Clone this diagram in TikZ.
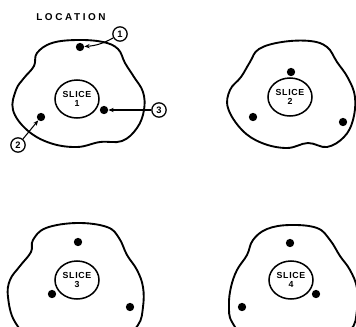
\documentclass[tikz,border=0pt]{standalone}
\usepackage{fontspec}
\setmainfont{Liberation Sans}
\newfontfamily\titlefont[LetterSpace=26]{Liberation Sans}
\newfontfamily\slicefont[LetterSpace=8]{Liberation Sans}
\usetikzlibrary{shapes.geometric, arrows.meta}
\tikzset{
  outline/.style={line width=1.6pt, line join=round},
  slicebox/.style={ellipse, draw, line width=1.3pt, minimum width=1.32cm, minimum height=1.14cm, inner sep=0pt, align=center, font=\slicefont\bfseries\fontsize{7.5}{8}\selectfont},
  spot/.style={circle, fill=black, inner sep=0pt, minimum size=0.25cm},
  callout/.style={circle, draw, line width=1.1pt, inner sep=0pt, minimum size=0.43cm, font=\bfseries\fontsize{8}{9}\selectfont},
  leader/.style={line width=0.9pt, -{Stealth[length=1.6mm, width=1.3mm]}}
}

\begin{document}
\begin{tikzpicture}[x=0.03cm, y=-0.03cm]

    \useasboundingbox (0,0) rectangle (356,326);
    \clip (0,0) rectangle (356,326);

    % Titulo
    \node[font=\titlefont\bfseries\fontsize{8.5}{9}\selectfont] (title) at (71,17) {LOCATION};

    % Contornos exteriores (uno por rebanada)
    \draw[outline] plot[smooth cycle, tension=0.65] coordinates {
        (37,53) (52,43) (77,40) (103,42) (118,49) (125,63) (134,77) (143,92)
        (144,110) (137,128) (122,141) (100,142) (77,147) (50,143) (27,130)
        (13,110) (16,90) (24,78) (34,66)};
    \draw[outline] plot[smooth cycle, tension=0.65] coordinates {
        (250,62) (259,49) (282,42) (310,41) (327,47) (337,62) (348,78) (355,97)
        (353,120) (344,137) (327,147) (308,143) (287,148) (262,143) (242,130)
        (228,108) (230,90) (241,77)};
    \draw[outline] plot[smooth cycle, tension=0.65] coordinates {
        (33,240) (46,228) (77,223) (107,227) (119,238) (127,255) (137,270)
        (143,287) (143,307) (138,325) (120,340) (77,345) (35,340) (15,322)
        (8,297) (10,280) (20,266) (31,252)};
    \draw[outline] plot[smooth cycle, tension=0.65] coordinates {
        (253,240) (267,229) (290,225) (317,228) (330,240) (340,256) (350,270)
        (357,288) (357,310) (350,330) (320,342) (290,345) (250,340) (232,322)
        (229,305) (231,287) (237,270) (247,255)};

    % Rebanadas centrales
    \foreach \x/\y/\n in {77/99/1, 290/97/2, 77/280/3, 291/280/4} {
        \node[slicebox] (slice\n) at (\x,\y) {SLICE\\\n};
    }

    % Puntos de medida
    \foreach \x/\y/\k in {
        80/47/11, 41/117/12, 104/110/13,
        291/72/21, 253/117/22, 343/122/23,
        78/242/31, 52/294/32, 130/307/33,
        290/243/41, 316/294/42, 242/307/43
    } {
        \node[spot] (spot\k) at (\x,\y) {};
    }

    % Numeros de ubicacion
    \node[callout] (loc1) at (120,34) {1};
    \node[callout] (loc2) at (18,145) {2};
    \node[callout] (loc3) at (159,110) {3};

    \draw[leader] (loc1) to[bend left=12] (spot11);
    \draw[leader] (loc2) -- (spot12);
    \draw[leader] (loc3) -- (spot13);

\end{tikzpicture}
\end{document}
